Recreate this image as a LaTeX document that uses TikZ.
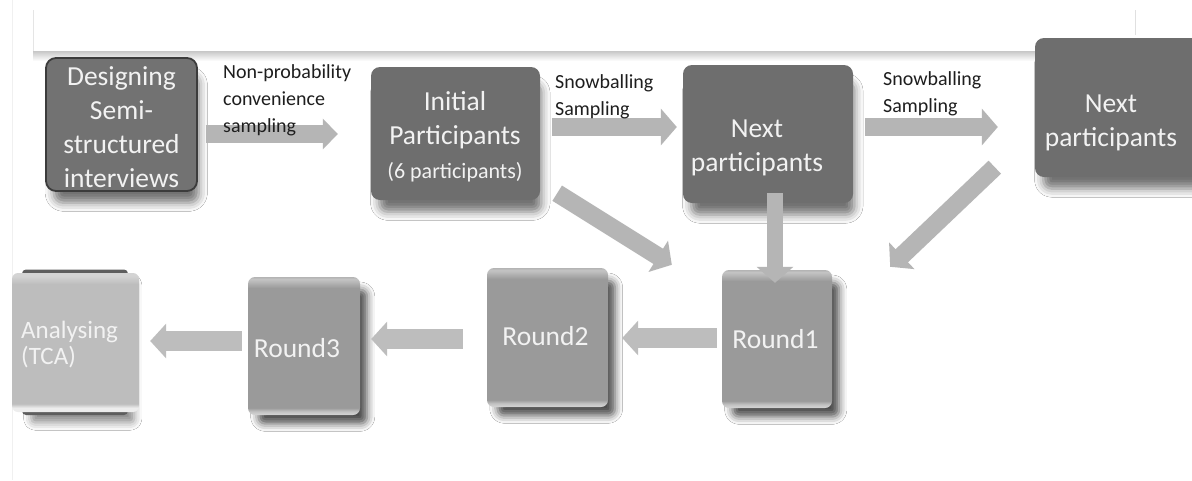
\documentclass[tikz,border=0pt]{standalone}
\usepackage{fontspec}
\setmainfont{Carlito}
\usetikzlibrary{arrows.meta,calc,shadows.blur}
\definecolor{boxdark}{HTML}{6E6E6E}
\definecolor{boxdes}{HTML}{727272}
\definecolor{desborder}{HTML}{3C3C3C}
\definecolor{boxtext}{HTML}{F2F2F2}
\definecolor{arrowgray}{HTML}{B5B5B5}
\definecolor{arrowlow}{HTML}{BDBDBD}
\definecolor{labelc}{HTML}{1E1E1E}
\definecolor{rbase}{HTML}{9A9A9A}
\definecolor{rrimb}{HTML}{D6D6D6}
\definecolor{rrimbb}{HTML}{C2C2C2}
\definecolor{rrimt}{HTML}{C4C4C4}
\definecolor{rrimtt}{HTML}{B4B4B4}
\definecolor{abase}{HTML}{BDBDBD}
\definecolor{arimb}{HTML}{EDEDED}
\definecolor{arimt}{HTML}{D4D4D4}
\definecolor{alip}{HTML}{5E5E5E}
\pgfdeclareverticalshading{bevelround}{100bp}{color(0bp)=(rrimb); color(25bp)=(rrimb); color(26.3bp)=(rrimbb); color(27.6bp)=(rbase); color(71bp)=(rbase); color(74.2bp)=(rrimt); color(75bp)=(rrimtt); color(100bp)=(rrimtt)}
\pgfdeclareverticalshading{bevelana}{100bp}{color(0bp)=(arimb); color(25bp)=(arimb); color(26.5bp)=(arimb); color(28bp)=(abase); color(71bp)=(abase); color(74bp)=(arimt); color(75bp)=(arimt); color(100bp)=(arimt)}
\tikzset{
  topbox/.style={rectangle, rounded corners=9pt, fill=boxdark, draw=none, inner sep=0pt,
    blur shadow={shadow xshift=5pt, shadow yshift=-15pt, shadow scale=0.96, shadow blur radius=9pt, shadow opacity=55}},
  desbox/.style={rectangle, rounded corners=10pt, fill=boxdes, draw=desborder, line width=1.8pt, inner sep=0pt,
    blur shadow={shadow xshift=5pt, shadow yshift=-15pt, shadow scale=0.96, shadow blur radius=9pt, shadow opacity=55}},
  roundbox/.style={rectangle, rounded corners=7pt, shading=bevelround, draw=none, inner sep=0pt,
    blur shadow={shadow xshift=9pt, shadow yshift=-11pt, shadow scale=0.97, shadow blur radius=8pt, shadow opacity=70}},
  anabox/.style={rectangle, rounded corners=6pt, shading=bevelana, draw=none, inner sep=0pt},
  boxtxt/.style={text=boxtext, font=\fontsize{27.5}{34}\selectfont, align=center, inner sep=0pt},
  roundtxt/.style={text=boxtext, font=\fontsize{27.5}{30}\selectfont, inner sep=0pt},
  lbl/.style={font=\fontsize{20}{27}\selectfont, text=labelc, align=left, anchor=north west, inner sep=0pt},
  blockarrow/.style={draw=arrowgray, line width=18pt, -{Triangle[length=16pt,width=36pt]}},
  lowarrow/.style={draw=arrowlow, line width=20pt, -{Triangle[length=16pt,width=34pt]}}
}
\begin{document}
\begin{tikzpicture}[x=1pt,y=-1pt]
\useasboundingbox[fill=white] (0,0) rectangle (1192,480);
% faint page artefacts
\draw[black!6, line width=0.8pt] (12,0) -- (12,480);
\draw[black!10, line width=0.8pt] (33,10) -- (33,51);
\draw[black!12, line width=0.8pt] (1135,10) -- (1135,35);
\shade[top color=black!22, bottom color=white] (33,51) rectangle (1040,61);

% top row boxes
\node[desbox, minimum width=151pt, minimum height=133pt] (d) at (121.5,124.5) {};
\node[boxtxt] (dt) at (121.5,127) {Designing\\Semi-\\structured\\interviews};

\node[topbox, minimum width=169pt, minimum height=133pt] (i) at (455.5,133.5) {};
\node[boxtxt] (it) at (455,137) {Initial\\Participants\\{\fontsize{22}{30}\selectfont (6 participants)}};

\node[topbox, minimum width=170pt, minimum height=138pt] (n1) at (768,134) {};
\node[boxtxt] (n1t) at (757,148) {Next\\participants};

\node[topbox, minimum width=170pt, minimum height=139pt] (n2) at (1120,107.5) {};
\node[boxtxt] (n2t) at (1111,122.5) {Next\\participants};

% bottom row boxes
\node[roundbox, minimum width=110pt, minimum height=138pt] (r1) at (777,339) {};
\node[roundtxt] (r1t) at (775.5,339) {Round1};
\node[roundbox, minimum width=121pt, minimum height=139pt] (r2) at (547.5,337.5) {};
\node[roundtxt] (r2t) at (545.5,336) {Round2};
\node[roundbox, minimum width=112pt, minimum height=138pt] (r3) at (304,346) {};
\node[roundtxt] (r3t) at (297,348) {Round3};

\fill[alip, rounded corners=4pt, blur shadow={shadow xshift=8pt, shadow yshift=-10pt, shadow scale=0.97, shadow blur radius=8pt, shadow opacity=45}] (22,269.5) rectangle (128,415);
\node[anabox, minimum width=127pt, minimum height=139pt] (a) at (75.5,342.5) {};
\node[text=boxtext, font=\fontsize{25}{26}\selectfont, align=left, anchor=west, inner sep=0pt] (at) at (21,345) {Analysing\\(TCA)};

% arrows, top row
\draw[blockarrow, -{Triangle[length=15pt,width=30pt]}] ($(d.east)+(8,9.5)$) -- ($(i.west)+(-33,0.5)$);
\draw[blockarrow] ($(i.east)+(12,-6.5)$) -- ($(n1.west)+(-6,-7)$);
\draw[blockarrow] ($(n1.east)+(12,-7)$) -- ($(n2.west)+(-37,19.5)$);
% arrows down to Round1
\draw[blockarrow] ($(i.south east)+(17,-7)$) -- ($(r1.north west)+(-50,-5)$);
\draw[blockarrow, line width=16pt] ($(n1.south)+(7,-10)$) -- ($(r1.north)+(-2,13)$);
\draw[blockarrow] ($(n2.south west)+(-40,-10)$) -- ($(r1.north east)+(58,-3)$);
% arrows, bottom row
\draw[lowarrow] ($(r1.west)+(-5,-1)$) -- ($(r2.east)+(14,0.5)$);
\draw[lowarrow] ($(r2.west)+(-24,1.5)$) -- ($(r3.east)+(11,-7)$);
\draw[lowarrow] ($(r3.west)+(-6,-5)$) -- ($(a.east)+(11,-1.5)$);

% labels
\node[lbl] (l1) at (223,64) {Non-probability\\convenience\\sampling};
\node[lbl] (l2) at (555,74) {Snowballing\\Sampling};
\node[lbl] (l3) at (883,71) {Snowballing\\Sampling};
\end{tikzpicture}
\end{document}
